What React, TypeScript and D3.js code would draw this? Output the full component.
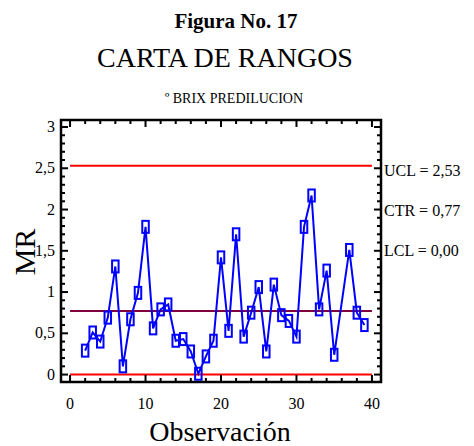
import React from "react";
import * as d3 from "d3";

const obs: number[] = [2,3,4,5,6,7,8,9,10,11,12,13,14,15,16,17,18,19,20,21,22,23,24,25,26,27,28,29,30,31,32,33,34,35,37,38,39];
const mr: number[] = [0.29,0.51,0.40,0.69,1.31,0.10,0.67,0.99,1.79,0.56,0.79,0.85,0.41,0.43,0.28,0.01,0.22,0.41,1.42,0.53,1.70,0.46,0.75,1.06,0.28,1.09,0.72,0.65,0.46,1.79,2.17,0.79,1.26,0.24,1.51,0.75,0.60];
const limits = [
  { name: "UCL", value: 2.53, label: "UCL = 2,53", color: "#ff0000" },
  { name: "CTR", value: 0.77, label: "CTR = 0,77", color: "#800040" },
  { name: "LCL", value: 0.0, label: "LCL = 0,00", color: "#ff0000" },
];
const xTicks = [0, 10, 20, 30, 40];
const yTicks = [0, 0.5, 1, 1.5, 2, 2.5, 3];
const fmt = (v: number) => String(v).replace(".", ",");

export default function App() {
  const W = 474, H = 446;
  const L = 61, R = 381, T = 120, B = 382;
  const x = d3.scaleLinear().domain([-1.2, 41.2]).range([L, R]);
  const y = d3.scaleLinear().domain([-0.09, 3.085]).range([B, T]);
  const font = "'Liberation Serif', 'Times New Roman', serif";
  const line = d3.line<number>().x((_, i) => x(obs[i])).y((d) => y(d));
  const xMinor = d3.range(0, 41, 2);
  const yMinor = d3.range(0, 31).map((v) => v / 10);
  return (
    <svg width={W} height={H} style={{ position: "absolute", left: 0, top: 0 }} fontFamily={font}>
      <text x={236} y={28} textAnchor="middle" fontSize={21} fontWeight="bold">Figura No. 17</text>
      <text x={225} y={67} textAnchor="middle" fontSize={28}>CARTA DE RANGOS</text>
      <text x={234} y={103} textAnchor="middle" fontSize={14}>º BRIX PREDILUCION</text>
      {limits.map((l) => (
        <line key={l.name} x1={x(0)} x2={x(40)} y1={y(l.value)} y2={y(l.value)} stroke={l.color} strokeWidth={2} />
      ))}
      <path d={line(mr) || ""} fill="none" stroke="#0000ff" strokeWidth={2} />
      {mr.map((v, i) => (
        <rect key={i} x={x(obs[i]) - 3.25} y={y(v) - 6} width={6.5} height={12} fill="none" stroke="#0000ff" strokeWidth={2} />
      ))}
      {xMinor.map((t) => {
        const len = t % 10 === 0 ? 7 : 4;
        return (
          <g key={"x" + t}>
            <line x1={x(t)} x2={x(t)} y1={B} y2={B - len} stroke="#000" strokeWidth={2} />
            <line x1={x(t)} x2={x(t)} y1={T} y2={T + len} stroke="#000" strokeWidth={2} />
          </g>
        );
      })}
      {yMinor.map((t, i) => {
        const len = i % 5 === 0 ? 7 : 4;
        return (
          <g key={"y" + i}>
            <line x1={L} x2={L + len} y1={y(t)} y2={y(t)} stroke="#000" strokeWidth={2} />
            <line x1={R} x2={R - len} y1={y(t)} y2={y(t)} stroke="#000" strokeWidth={2} />
          </g>
        );
      })}
      <rect x={L} y={T} width={R - L} height={B - T} fill="none" stroke="#000" strokeWidth={2.5} />
      {xTicks.map((t) => (
        <text key={"xl" + t} x={x(t)} y={409} textAnchor="middle" fontSize={16}>{t}</text>
      ))}
      {yTicks.map((t) => (
        <text key={"yl" + t} x={55} y={y(t) + 5} textAnchor="end" fontSize={16}>{fmt(t)}</text>
      ))}
      {limits.map((l, i) => (
        <text key={"ll" + l.name} x={384} y={176 + i * 40} fontSize={16}>{l.label}</text>
      ))}
      <text x={220} y={441} textAnchor="middle" fontSize={28}>Observación</text>
      <text transform={`translate(35,${252}) rotate(-90)`} textAnchor="middle" fontSize={30}>MR</text>
    </svg>
  );
}
